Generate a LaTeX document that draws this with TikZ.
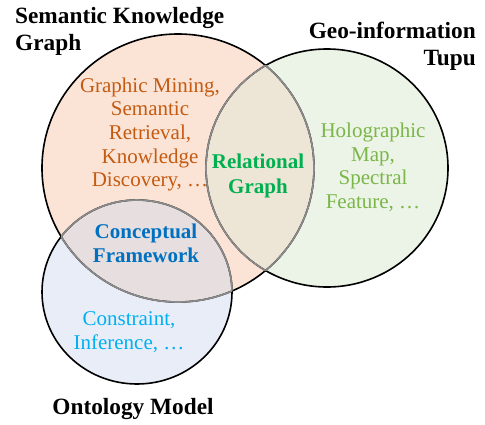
\documentclass[tikz,border=0pt]{standalone}
\usepackage{fontspec}
\setmainfont{Liberation Serif}
\definecolor{skfill}{HTML}{FBE4D6}
\definecolor{gtfill}{HTML}{ECF4E7}
\definecolor{omfill}{HTML}{E9EDF8}
\definecolor{skgtfill}{HTML}{EDE5D6}
\definecolor{skomfill}{HTML}{E7DFDF}
\definecolor{sktext}{HTML}{C55A11}
\definecolor{reltext}{HTML}{00B050}
\definecolor{gttext}{HTML}{7AB648}
\definecolor{context}{HTML}{0070C0}
\definecolor{omtext}{HTML}{00B0F0}
\begin{document}
\begin{tikzpicture}[x=1pt,y=-1pt,
    title/.style={font=\fontsize{23.3}{27}\selectfont\bfseries, inner sep=0pt},
    item/.style={font=\fontsize{21}{23.6}\selectfont, align=center, inner sep=0pt},
    rim/.style={line width=1.6pt},
    innerrim/.style={line width=1.6pt, draw=black!45}]
  \useasboundingbox (0,0) rectangle (485,424);
  \coordinate (skc) at (178,168);
  \coordinate (gtc) at (327,168);
  \coordinate (omc) at (137,292);
  % fills
  \fill[skfill] (skc) ellipse [x radius=136pt, y radius=134pt];
  \fill[gtfill] (gtc) ellipse [x radius=121pt, y radius=119pt];
  \fill[omfill] (omc) ellipse [x radius=95pt, y radius=92pt];
  \begin{scope}
    \clip (gtc) ellipse [x radius=121pt, y radius=119pt];
    \fill[skgtfill] (skc) ellipse [x radius=136pt, y radius=134pt];
  \end{scope}
  \begin{scope}
    \clip (omc) ellipse [x radius=95pt, y radius=92pt];
    \fill[skomfill] (skc) ellipse [x radius=136pt, y radius=134pt];
  \end{scope}
  % outlines
  \draw[rim] (skc) ellipse [x radius=136pt, y radius=134pt];
  \draw[rim] (gtc) ellipse [x radius=121pt, y radius=119pt];
  \draw[rim] (omc) ellipse [x radius=95pt, y radius=92pt];
  % outlines inside the overlaps
  \begin{scope}
    \clip (gtc) ellipse [x radius=121pt, y radius=119pt];
    \draw[innerrim] (skc) ellipse [x radius=136pt, y radius=134pt];
  \end{scope}
  \begin{scope}
    \clip (skc) ellipse [x radius=136pt, y radius=134pt];
    \draw[innerrim] (gtc) ellipse [x radius=121pt, y radius=119pt];
    \draw[innerrim] (omc) ellipse [x radius=95pt, y radius=92pt];
  \end{scope}
  \begin{scope}
    \clip (omc) ellipse [x radius=95pt, y radius=92pt];
    \draw[innerrim] (skc) ellipse [x radius=136pt, y radius=134pt];
  \end{scope}
  % titles
  \node[title, align=left, anchor=north west] (skg) at (15,7) {Semantic Knowledge\\Graph};
  \node[title, align=right, anchor=north east] (gtp) at (476,22) {Geo-information\\Tupu};
  \node[title, anchor=base] (onto) at (133,414) {Ontology Model};
  % contents
  \node[item, text=sktext] (skitems) at (150,134.5) {Graphic Mining,\\Semantic\\Retrieval,\\Knowledge\\Discovery, \dots};
  \node[item, text=reltext, font=\fontsize{21}{25}\selectfont\bfseries] (rel) at (258,176) {Relational\\Graph};
  \node[item, text=gttext] (gtitems) at (373,167.5) {Holographic\\Map,\\Spectral\\Feature, \dots};
  \node[item, text=context, font=\fontsize{21}{23.5}\selectfont\bfseries] (con) at (146,243.5) {Conceptual\\Framework};
  \node[item, text=omtext] (omitems) at (129,332) {Constraint,\\Inference, \dots};
\end{tikzpicture}
\end{document}
